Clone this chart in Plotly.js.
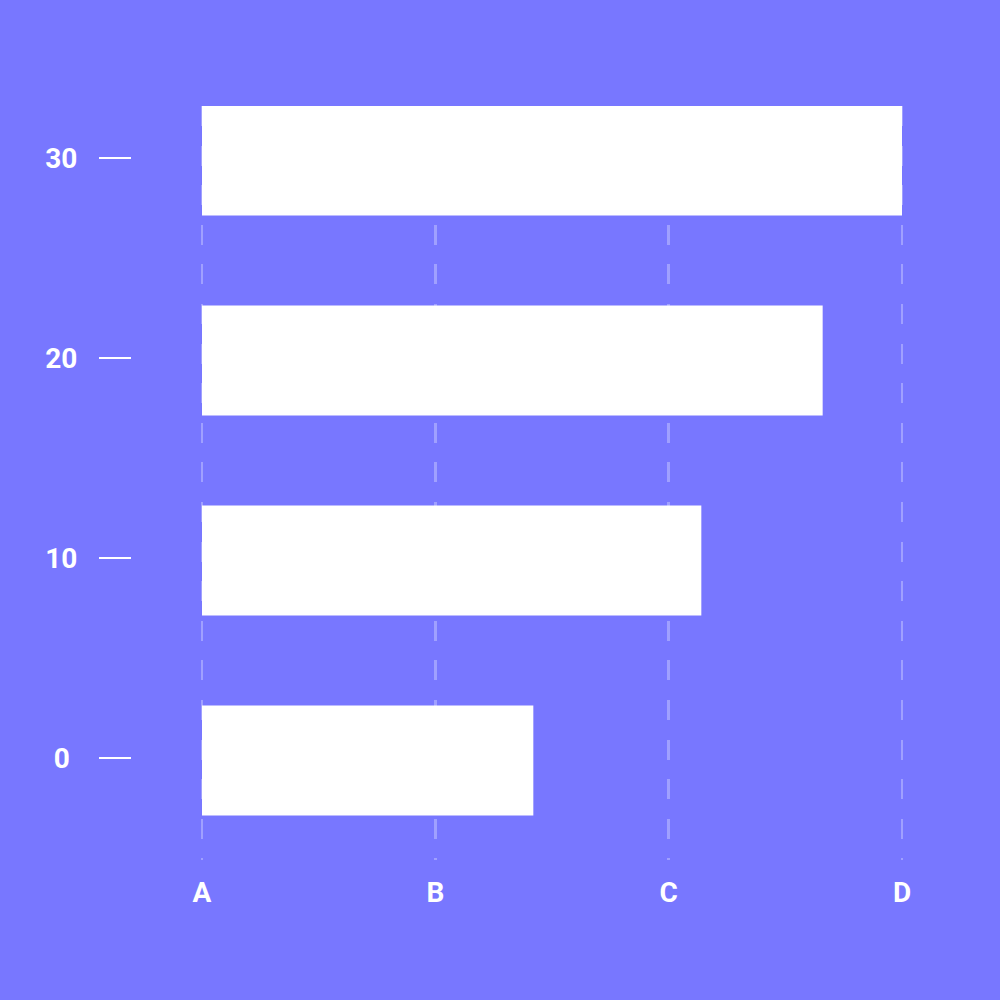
<!DOCTYPE html>
<html>
<head>
<meta charset="utf-8">
<script src="https://cdn.plot.ly/plotly-3.0.1.min.js"></script>
<style>html,body{margin:0;padding:0;background:#7877ff;}</style>
</head>
<body>
<div id="chart" style="width:1000px;height:1000px;"></div>
<script>
// Data
const yValues = [0, 10, 20, 30];
const xValues = [1.42, 2.14, 2.66, 3.0];
const categoryPositions = [0, 1, 2, 3];
const categoryLabels = ['A', 'B', 'C', 'D'];
const yTickVals = [0, 10, 20, 30];
const yTickLabels = ['0\u2008', '10', '20', '30'];

const bg = '#7877ff';
const tickFont = {family: 'Roboto', size: 28, color: '#ffffff', weight: 700};

const trace = {
  type: 'bar',
  orientation: 'h',
  x: xValues,
  y: yValues,
  width: 5.5,
  offset: -2.88,
  marker: {color: '#ffffff', line: {width: 0}},
  hoverinfo: 'none',
  showlegend: false
};

const layout = {
  width: 1000,
  height: 1000,
  paper_bgcolor: bg,
  plot_bgcolor: bg,
  margin: {l: 132, r: 28, t: 106, b: 140, pad: 0},
  showlegend: false,
  xaxis: {
    range: [-0.3, 3.3],
    tickmode: 'array',
    tickvals: categoryPositions,
    ticktext: categoryLabels,
    showgrid: true,
    gridcolor: 'rgba(255,255,255,0.3)',
    gridwidth: 2.5,
    griddash: '20px,19.6px',
    zeroline: false,
    showline: false,
    ticks: '',
    ticklabelstandoff: 13,
    tickfont: tickFont,
    fixedrange: true
  },
  yaxis: {
    range: [-5.1, 32.6],
    tickmode: 'array',
    tickvals: yTickVals,
    ticktext: yTickLabels,
    showgrid: false,
    zeroline: false,
    showline: false,
    ticks: 'outside',
    ticklen: 32,
    tickwidth: 2.5,
    tickcolor: '#ffffff',
    ticklabelstandoff: 16,
    tickfont: tickFont,
    fixedrange: true
  }
};

Plotly.newPlot('chart', [trace], layout, {displayModeBar: false, staticPlot: true});
</script>
</body>
</html>
